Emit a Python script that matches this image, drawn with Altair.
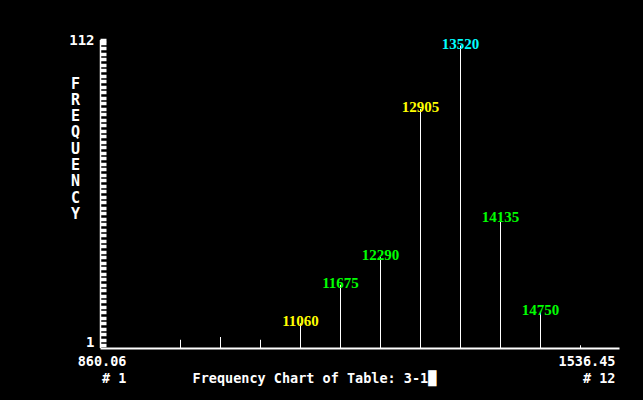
import altair as alt
import pandas as pd
import jinja2
from altair.utils import html as alt_html

# ---- data ----
bins = [1, 2, 3, 4, 5, 6, 7, 8, 9, 10, 11, 12]
freq = [0, 3, 4, 3, 9, 23, 33, 87, 110, 47, 13, 1]
bar_labels = ["", "", "", "", "11060", "11675", "12290", "12905", "13520", "14135", "14750", ""]
label_colors = ["", "", "", "", "yellow", "green", "green", "yellow", "cyan", "green", "green", ""]

x_min_label = "860.06"
x_max_label = "1536.45"
first_bin_label = "#  1"
last_bin_label = "# 12"
y_top = 112
chart_title = "Frequency Chart of Table: 3-1\u2588"
y_title = "FREQUENCY"

df = pd.DataFrame({"bin": bins, "freq": freq, "label": bar_labels, "col": label_colors})
rail_df = pd.DataFrame({"rx": [0.0], "ry0": [0], "ry1": [y_top]})

MONO = "DejaVu Sans Mono"
SERIF = "Liberation Serif"
W, H = 519, 308
x_lo, x_hi = -0.0125, 12.9625

x_scale = alt.Scale(domain=[x_lo, x_hi], nice=False, zero=False)
y_scale = alt.Scale(domain=[0, y_top], nice=False)

x_axis = alt.Axis(
    values=[x_lo, x_hi],
    ticks=False,
    grid=False,
    domainColor="white",
    domainWidth=2,
    labelExpr=f"datum.value < 1 ? ['{x_min_label}', '{first_bin_label}'] : ['{x_max_label}', '{last_bin_label}']",
    labelAlign="right",
    labelBaseline="alphabetic",
    labelPadding=17,
    labelLineHeight=17,
    labelOffset={"condition": {"test": "datum.value < 1", "value": 26}, "value": -4},
    labelOverlap=False,
    labelFlush=False,
    labelBound=False,
    labelColor="white",
    labelFont=MONO,
    labelFontSize=13.5,
    labelFontWeight="bold",
    title=chart_title,
    titleColor="white",
    titleFont=MONO,
    titleFontSize=13.5,
    titleFontWeight="bold",
    titleAlign="left",
    titleAnchor="start",
    titleBaseline="alphabetic",
    titleX=92,
    titleY=34,
)

y_ticks = list(range(1, 112, 2)) + [112]
y_axis = alt.Axis(
    values=y_ticks,
    tickCount=200,
    format="d",
    offset=-6,
    domain=False,
    grid=False,
    tickColor="white",
    tickSize=6,
    tickWidth=3.5,
    labelExpr="datum.value == 1 || datum.value == 112 ? format(datum.value, 'd') : ''",
    labelOverlap=False,
    labelColor="white",
    labelFont=MONO,
    labelFontSize=14,
    labelFontWeight="bold",
    labelPadding=6,
    labelBaseline="middle",
    labelOffset={"condition": {"test": "datum.value == 1", "value": -3}, "value": 0},
    title=list(y_title),
    titleAngle=0,
    titleColor="white",
    titleFont=MONO,
    titleFontSize=15,
    titleFontWeight="bold",
    titleAlign="center",
    titleBaseline="top",
    titleLineHeight=16.3,
    titleX=-31,
    titleY=36,
)

base = alt.Chart(df)

rules = base.transform_filter("datum.freq > 0").mark_rule(color="white", strokeWidth=1).encode(
    x=alt.X("bin:Q", scale=x_scale, axis=x_axis),
    y=alt.Y("freq:Q", scale=y_scale, axis=y_axis),
    y2=alt.datum(0),
)

texts = base.transform_filter("datum.label != ''").mark_text(
    font=SERIF, fontSize=15, fontWeight="bold", baseline="alphabetic", align="center", dy=3
).encode(
    x=alt.X("bin:Q", scale=x_scale),
    y=alt.Y("freq:Q", scale=y_scale),
    text="label:N",
    color=alt.Color(
        "col:N",
        scale=alt.Scale(domain=["yellow", "green", "cyan"], range=["#ffff00", "#00ff00", "#00ffff"]),
        legend=None,
    ),
)

rail = alt.Chart(rail_df).mark_rule(color="white", strokeWidth=1.5).encode(
    x=alt.X("rx:Q", scale=x_scale),
    y=alt.Y("ry0:Q", scale=y_scale),
    y2="ry1:Q",
)

chart = (
    alt.layer(rules, texts, rail)
    .properties(
        width=W,
        height=H,
        autosize=alt.AutoSizeParams(type="none"),
        padding={"left": 92, "top": 32, "right": 16, "bottom": 40},
        background="black",
    )
    .configure_view(stroke=None)
)


class BlackPage(jinja2.Template):
    def render(self, *args, **kwargs):
        page = alt_html.HTML_TEMPLATE.render(*args, **kwargs)
        return page.replace("<head>", "<head>\n<style>html, body { background: #000; }</style>", 1)


try:
    chart.save("out.html", embed_options={"renderer": "svg", "actions": False}, template=BlackPage(""))
except Exception:
    chart.save("out.html", embed_options={"renderer": "svg", "actions": False})
